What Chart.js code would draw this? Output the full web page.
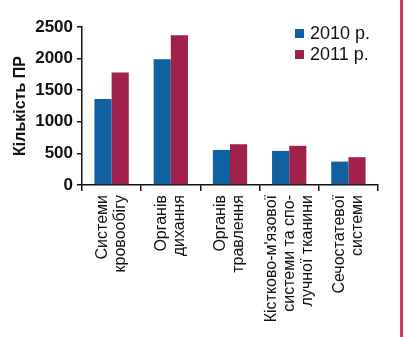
<!DOCTYPE html>
<html>
<head>
<meta charset="utf-8">
<script src="https://cdn.jsdelivr.net/npm/chart.js@4.4.1/dist/chart.umd.min.js"></script>
<style>
  html, body { margin: 0; padding: 0; background: #fff; }
  #wrap { position: relative; width: 404px; height: 337px; overflow: hidden; }
  #edge { position: absolute; left: 400px; top: 0; width: 3px; height: 337px; background: #c7405c; }
  #legend { position: absolute; left: 295px; top: 23px; font: 18px "Liberation Sans", Arial, sans-serif; color: #111; }
  #legend .row { display: flex; align-items: center; height: 21px; }
  #legend .sw { width: 9px; height: 9px; margin-right: 6px; }
</style>
</head>
<body>
<div id="wrap">
  <canvas id="chart" width="404" height="337"></canvas>
  <div id="legend"></div>
  <div id="edge"></div>
</div>
<script>
// ── Дані ──
const categories = [
  ['Системи', 'кровообігу'],
  ['Органів', 'дихання'],
  ['Органів', 'травлення'],
  ['Кістково-м\'язової', 'системи та спо-', 'лучної тканини'],
  ['Сечостатевої', 'системи']
];
const seriesNames = ['2010 р.', '2011 р.'];
const values2010 = [1360, 1990, 555, 540, 370];
const values2011 = [1780, 2370, 645, 620, 440];
const seriesColors = ['#11609f', '#a2214b'];
const yTicks = [0, 500, 1000, 1500, 2000, 2500];

const FONT = '"Liberation Sans", Arial, sans-serif';

// ── Легенда ──
(function(){
  const box = document.getElementById('legend');
  seriesNames.forEach((name, i) => {
    const row = document.createElement('div');
    row.className = 'row';
    row.innerHTML = '<span class="sw" style="background:' + seriesColors[i] + '"></span><span>' + name + '</span>';
    box.appendChild(row);
  });
})();

// ── Підписи категорій (вертикальні, багаторядкові) ──
const xLabelsPlugin = {
  id: 'xLabels',
  afterDraw(chart) {
    const { ctx, scales: { x } } = chart;
    const lineH = 18;
    ctx.save();
    ctx.font = '16px ' + FONT;
    ctx.fillStyle = '#111';
    ctx.textAlign = 'right';
    ctx.textBaseline = 'middle';
    categories.forEach((lines, i) => {
      const cx = x.getPixelForValue(i);
      lines.forEach((line, j) => {
        const lx = cx + (j - (lines.length - 1) / 2) * lineH;
        ctx.save();
        ctx.translate(lx, x.top + 10);
        ctx.rotate(-Math.PI / 2);
        ctx.fillText(line, 0, 0);
        ctx.restore();
      });
    });
    ctx.restore();
  }
};

new Chart(document.getElementById('chart'), {
  type: 'bar',
  data: {
    labels: categories.map(c => c.join(' ')),
    datasets: [
      { label: seriesNames[0], data: values2010, backgroundColor: seriesColors[0] },
      { label: seriesNames[1], data: values2011, backgroundColor: seriesColors[1] }
    ]
  },
  options: {
    responsive: false,
    animation: false,
    devicePixelRatio: 1,
    layout: { padding: { top: 27, right: 26, left: 0, bottom: 0 } },
    plugins: { legend: { display: false }, tooltip: { enabled: false } },
    datasets: { bar: { categoryPercentage: 0.58, barPercentage: 1, borderWidth: 0 } },
    scales: {
      x: {
        offset: true,
        grid: { drawOnChartArea: false, offset: true, drawTicks: true, tickLength: 6, color: '#111', lineWidth: 1.5 },
        border: { color: '#111', width: 1.5 },
        ticks: { display: false },
        afterFit(scale) { scale.height = 152; }
      },
      y: {
        min: 0,
        max: yTicks[yTicks.length - 1],
        afterBuildTicks(scale) { scale.ticks = yTicks.map(v => ({ value: v })); },
        grid: { drawOnChartArea: false, drawTicks: true, tickLength: 5, color: '#111', lineWidth: 1.5 },
        border: { color: '#111', width: 1.5 },
        ticks: { color: '#111', padding: 4, font: { family: FONT, size: 17, weight: 'bold' }, callback: v => String(v) },
        title: { display: true, text: 'Кількість ПР', color: '#111', padding: { top: 11, bottom: 0 }, font: { family: FONT, size: 16, weight: 'bold' } },
        afterFit(scale) { scale.width = 82; }
      }
    }
  },
  plugins: [xLabelsPlugin]
});
</script>
</body>
</html>
